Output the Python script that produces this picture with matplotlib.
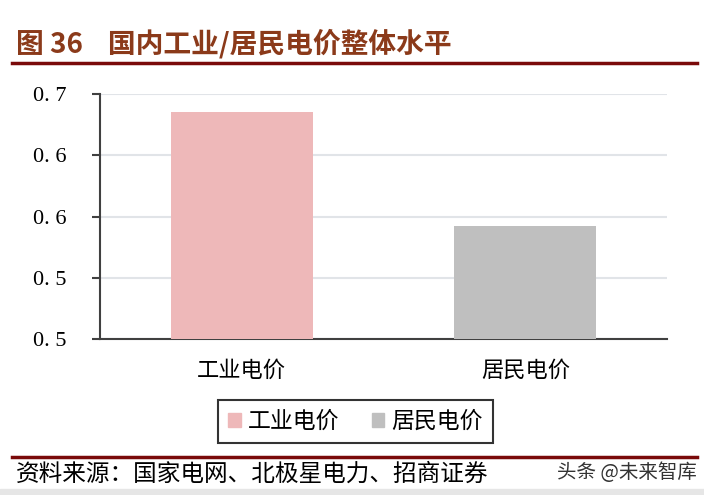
import matplotlib
matplotlib.use("Agg")
import matplotlib.pyplot as plt
from matplotlib.patches import Rectangle

plt.rcParams['font.family'] = ['Noto Sans CJK SC', 'DejaVu Sans']

categories = ["工业电价", "居民电价"]
values = [0.685, 0.592]
colors = ["#EEB8B9", "#BFBFBF"]
yticks = [0.50, 0.55, 0.60, 0.65, 0.70]
ytick_labels = ["0. 5", "0. 5", "0. 6", "0. 6", "0. 7"]
title = "图 36    国内工业/居民电价整体水平"
source = "资料来源：国家电网、北极星电力、招商证券"
watermark = "头条 @未来智库"

fig = plt.figure(figsize=(7.04, 4.95), dpi=100)
ax = fig.add_axes([100/704, 1-339/495, 567/704, 245/495])

x = list(range(len(categories)))
ax.bar(x, values, width=0.5, color=colors, zorder=3)
ax.set_xlim(-0.5, 1.5)
ax.set_ylim(0.50, 0.70)
ax.set_yticks(yticks)
ax.set_yticklabels(ytick_labels, family='Liberation Serif', fontsize=16)
ax.set_xticks(x)
ax.set_xticklabels(categories, fontsize=16)
ax.tick_params(axis='x', length=0, pad=14)
ax.tick_params(axis='y', length=6, width=1.5, color='#404040', pad=18, direction='out')
for s in ['top', 'right']:
    ax.spines[s].set_visible(False)
ax.spines['left'].set_color('#404040')
ax.spines['left'].set_linewidth(1.5)
ax.spines['bottom'].set_color('#404040')
ax.spines['bottom'].set_linewidth(1.5)
ax.grid(axis='y', color='#E1E4E8', linewidth=1.5, zorder=0)

# legend
leg = ax.legend([Rectangle((0, 0), 1, 1, color=c) for c in colors], categories,
                loc='center', bbox_to_anchor=(355.5/704, 1-421.5/495), bbox_transform=fig.transFigure,
                ncol=2, frameon=True, fancybox=False, fontsize=16.5, handlelength=0.55, handleheight=0.55,
                handletextpad=0.3, columnspacing=1.4, borderpad=0.45, borderaxespad=0,
                edgecolor='black')
leg.get_frame().set_linewidth(1.5)

# title and lines
fig.text(16/704, 1-44/495, title, fontsize=20, fontweight='bold', color='#8B3A1A', va='center', ha='left')
fig.add_artist(plt.Line2D([12/704, 697/704], [1-63/495, 1-63/495], color='#7A0A0A', linewidth=2.5))
fig.add_artist(plt.Line2D([12/704, 697/704], [1-457/495, 1-457/495], color='#7A0A0A', linewidth=2.5))
fig.text(16/704, 1-474/495, source, fontsize=17, color='black', va='center', ha='left')
fig.text(697/704, 1-472/495, watermark, fontsize=14, color='#333333', va='center', ha='right')
fig.add_artist(Rectangle((0, 0), 1, 6/495, transform=fig.transFigure, color='#E6E6E6'))

fig.savefig("out.png", dpi=100)
